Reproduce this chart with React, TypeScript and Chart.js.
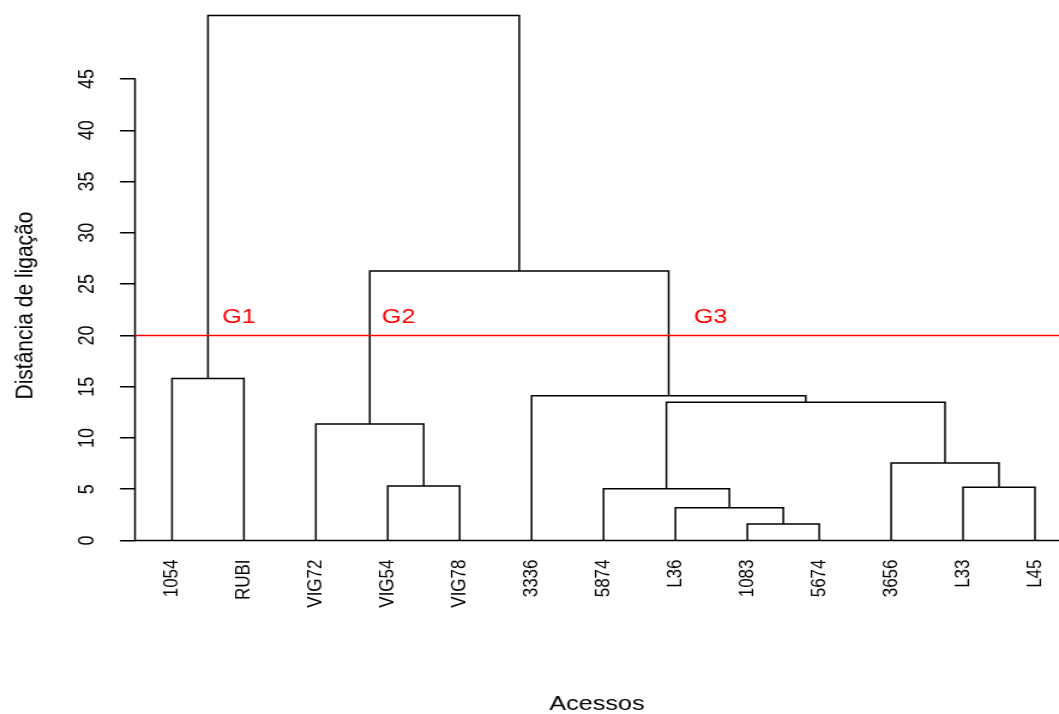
import React, { useEffect, useRef } from 'react';
import { Chart, registerables } from 'chart.js';

Chart.register(...registerables);

// ---------- data ----------
const leafLabels = ['1054', 'RUBI', 'VIG72', 'VIG54', 'VIG78', '3336', '5874', 'L36', '1083', '5674', '3656', 'L33', 'L45'];
// hclust-style merge table: negative = leaf number (1-based, in display order), positive = earlier merge step
const mergeLeft = [-9, -8, -7, -12, -4, -11, -3, 3, -6, -1, 7, 10];
const mergeRight = [-10, 1, 2, -13, -5, 4, 5, 6, 8, -2, 9, 11];
const mergeHeight = [1.61, 3.2, 5.05, 5.19, 5.31, 7.56, 11.36, 13.47, 14.12, 15.8, 26.28, 51.2];
const yTickValues = [0, 5, 10, 15, 20, 25, 30, 35, 40, 45];
const cutHeight = 20;
const groupLabels = ['G1', 'G2', 'G3'];
const groupX = [1.93, 4.15, 8.49];
const groupY = [21.2, 21.2, 21.2];
const xAxisTitle = 'Acessos';
const yAxisTitle = 'Distância de ligação';

// ---------- layout ----------
const CANVAS_W = 883;
const CANVAS_H = 714;
const STRETCH = 1059 / CANVAS_W;
const FONT = "'Liberation Sans', Arial, Helvetica, sans-serif";
const BASE_PX = 540.5;
const PX_PER_UNIT = (540.5 - 79) / 45;
const Y_MAX = 51.5;
const TOP_PAD = BASE_PX - Y_MAX * PX_PER_UNIT;
const AXIS_X = 135 / STRETCH;
const X_MIN = 0.4855;
const X_MAX = 13.334;

Chart.defaults.font.family = FONT;

function buildSegments() {
  const nodeX: number[] = [];
  const pos = (id: number) => (id < 0 ? -id : nodeX[id - 1]);
  const ht = (id: number) => (id < 0 ? 0 : mergeHeight[id - 1]);
  return mergeHeight.map((h, i) => {
    const l = mergeLeft[i];
    const r = mergeRight[i];
    const xl = pos(l);
    const xr = pos(r);
    nodeX.push((xl + xr) / 2);
    return [
      { x: xl, y: ht(l) },
      { x: xl, y: h },
      { x: xr, y: h },
      { x: xr, y: ht(r) },
    ];
  });
}

const overlayPlugin = {
  id: 'dendroOverlay',
  afterDatasetsDraw(chart: any) {
    const { ctx, chartArea, scales } = chart;
    const xs = scales.x;
    const ys = scales.y;
    ctx.save();
    // y axis line (0..45)
    ctx.strokeStyle = '#000';
    ctx.lineWidth = 1.5;
    ctx.beginPath();
    ctx.moveTo(chartArea.left, ys.getPixelForValue(yTickValues[0]));
    ctx.lineTo(chartArea.left, ys.getPixelForValue(yTickValues[yTickValues.length - 1]));
    ctx.stroke();
    // baseline at 0
    const y0 = ys.getPixelForValue(0);
    ctx.beginPath();
    ctx.moveTo(chartArea.left, y0);
    ctx.lineTo(chartArea.right, y0);
    ctx.stroke();
    // cut line
    const yc = ys.getPixelForValue(cutHeight);
    ctx.strokeStyle = '#ff0000';
    ctx.lineWidth = 1.5;
    ctx.beginPath();
    ctx.moveTo(chartArea.left, yc);
    ctx.lineTo(chartArea.right, yc);
    ctx.stroke();
    // group labels
    ctx.fillStyle = '#ff0000';
    ctx.font = `21px ${FONT}`;
    ctx.textAlign = 'center';
    ctx.textBaseline = 'alphabetic';
    groupLabels.forEach((t, i) => {
      ctx.fillText(t, xs.getPixelForValue(groupX[i]), ys.getPixelForValue(groupY[i]));
    });
    // y axis title
    ctx.fillStyle = '#000';
    ctx.translate(32.5 / STRETCH, 305.5);
    ctx.rotate(-Math.PI / 2);
    ctx.textAlign = 'center';
    ctx.textBaseline = 'alphabetic';
    ctx.fillText(yAxisTitle, 0, 0);
    ctx.restore();
  },
};

export default function App() {
  const ref = useRef<HTMLCanvasElement>(null);
  useEffect(() => {
    const canvas = ref.current;
    if (!canvas) return;
    const segs = buildSegments();
    const chart = new Chart(canvas, {
      type: 'line',
      data: {
        datasets: segs.map((s) => ({
          data: s,
          borderColor: '#000',
          borderWidth: 1.5,
          pointRadius: 0,
          pointHoverRadius: 0,
          fill: false,
          tension: 0,
          borderJoinStyle: 'miter',
          borderCapStyle: 'butt',
        })),
      },
      options: {
        responsive: false,
        animation: false,
        devicePixelRatio: 1,
        events: [],
        layout: { padding: { top: TOP_PAD, left: 0, right: 0, bottom: 0 } },
        plugins: { legend: { display: false }, tooltip: { enabled: false } },
        scales: {
          x: {
            type: 'linear',
            min: X_MIN,
            max: X_MAX,
            grid: { display: false },
            border: { display: false },
            afterBuildTicks: (s: any) => {
              s.ticks = leafLabels.map((_, i) => ({ value: i + 1 }));
            },
            afterFit: (s: any) => {
              s.height = CANVAS_H - BASE_PX;
              s.paddingLeft = 0;
              s.paddingRight = 0;
              s.paddingTop = 0;
              s.paddingBottom = 0;
            },
            ticks: {
              autoSkip: false,
              minRotation: 90,
              maxRotation: 90,
              padding: 11,
              color: '#000',
              font: { size: 17 },
              callback: (v: any) => leafLabels[Math.round(Number(v)) - 1] ?? '',
            },
            title: {
              display: true,
              text: xAxisTitle,
              color: '#000',
              font: { size: 21, lineHeight: 0.9 },
              padding: 0,
            },
          },
          y: {
            type: 'linear',
            min: 0,
            max: Y_MAX,
            border: { display: false },
            grid: { drawOnChartArea: false, drawTicks: true, tickLength: 12.5, color: '#000', lineWidth: 1.5 },
            afterBuildTicks: (s: any) => {
              s.ticks = yTickValues.map((v) => ({ value: v }));
            },
            afterFit: (s: any) => {
              s.width = AXIS_X;
              s.paddingTop = 0;
              s.paddingBottom = 0;
              s.paddingLeft = 0;
              s.paddingRight = 0;
            },
            ticks: {
              minRotation: 90,
              maxRotation: 90,
              crossAlign: 'center',
              padding: 17,
              color: '#000',
              font: { size: 18 },
              callback: (v: any) => String(v),
            },
          },
        },
      },
      plugins: [overlayPlugin],
    } as any);
    return () => chart.destroy();
  }, []);
  return (
    <div
      style={{
        position: 'absolute',
        left: 0,
        top: 0,
        width: CANVAS_W,
        height: CANVAS_H,
        transform: `scaleX(${STRETCH})`,
        transformOrigin: '0 0',
      }}
    >
      <canvas ref={ref} width={CANVAS_W} height={CANVAS_H} style={{ display: 'block', width: CANVAS_W, height: CANVAS_H }} />
    </div>
  );
}
